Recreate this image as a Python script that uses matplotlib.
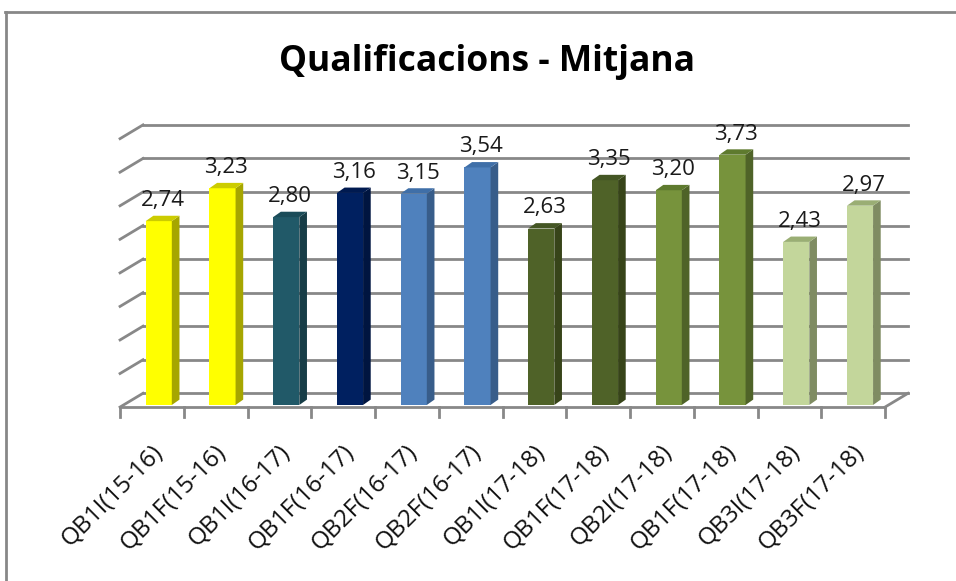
import matplotlib.pyplot as plt
from matplotlib.patches import Polygon
from matplotlib.lines import Line2D

plt.rcParams['font.family'] = ['Open Sans', 'DejaVu Sans']

# Data
categories = ['QB1I(15-16)', 'QB1F(15-16)', 'QB1I(16-17)', 'QB1F(16-17)', 'QB2F(16-17)', 'QB2F(16-17)',
              'QB1I(17-18)', 'QB1F(17-18)', 'QB2I(17-18)', 'QB1F(17-18)', 'QB3I(17-18)', 'QB3F(17-18)']
values = [2.74, 3.23, 2.80, 3.16, 3.15, 3.54, 2.63, 3.35, 3.20, 3.73, 2.43, 2.97]
value_labels = ['2,74', '3,23', '2,80', '3,16', '3,15', '3,54', '2,63', '3,35', '3,20', '3,73', '2,43', '2,97']
front_colors = ['#FFFF00', '#FFFF00', '#215968', '#002060', '#4F81BD', '#4F81BD',
                '#4F6228', '#4F6228', '#77933C', '#77933C', '#C3D69B', '#C3D69B']
top_colors = ['#CCCC00', '#CCCC00', '#1B4C59', '#001A50', '#3F6FA8', '#3F6FA8',
              '#445624', '#445624', '#5E7A2E', '#5E7A2E', '#9AAE74', '#9AAE74']
side_colors = ['#A6A600', '#A6A600', '#173D47', '#001540', '#385D8A', '#385D8A',
               '#374419', '#374419', '#4F6328', '#4F6328', '#7F8C62', '#7F8C62']

fig = plt.figure(figsize=(9.56, 5.81), dpi=100)
ax = fig.add_axes([0, 0, 1, 1])
# data units: 1 category = 63.75 px, 1 value unit = 67.1 px
ax.set_xlim(-143 / 63.75, (956 - 143) / 63.75)
ax.set_ylim(-(581 - 393.3) / 67.1, 393.3 / 67.1)
ax.axis('off')

grid_c = '#888888'
n = len(categories)
fx, fy = -0.36, -0.205  # offset from back wall to front edge

# back wall gridlines + left side diagonals
for k in range(9):
    y = k * 0.5
    ax.plot([0, n], [y, y], color=grid_c, lw=2, zorder=1)
    ax.plot([0, fx], [y, y + fy], color=grid_c, lw=2, zorder=1)
# floor front edge and right diagonal
ax.plot([fx, n + fx], [fy, fy], color=grid_c, lw=2, zorder=1)
ax.plot([n + fx, n], [fy, 0], color=grid_c, lw=2, zorder=1)
for k in range(n + 1):
    ax.plot([fx + k, fx + k], [fy, fy - 0.15], color=grid_c, lw=2, zorder=1)

# bars
w = 0.41
dx, dy = 0.12, 0.08
y0 = -0.174
for i, v in enumerate(values):
    x0 = i + 0.042
    y1 = y0 + v
    ax.add_patch(Polygon([(x0, y0), (x0 + w, y0), (x0 + w, y1), (x0, y1)],
                         closed=True, fc=front_colors[i], ec='none', zorder=3))
    ax.add_patch(Polygon([(x0 + w, y0), (x0 + w + dx, y0 + dy), (x0 + w + dx, y1 + dy), (x0 + w, y1)],
                         closed=True, fc=side_colors[i], ec='none', zorder=3))
    ax.add_patch(Polygon([(x0, y1), (x0 + w, y1), (x0 + w + dx, y1 + dy), (x0 + dx, y1 + dy)],
                         closed=True, fc=top_colors[i], ec='none', zorder=3))
    ax.text(x0 + w / 2 + dx / 2, y1 + dy + 0.07, value_labels[i], ha='center', va='bottom',
            fontsize=16, color='#1a1a1a', zorder=4)
    ax.text(fx + i + 0.5 - 0.02, fy - 0.5, categories[i], rotation=45, rotation_mode='anchor',
            ha='right', va='top', fontsize=17.5, color='#111111')

fig.text(0.509, 1 - 62 / 581, 'Qualificacions - Mitjana', ha='center', va='center',
         fontsize=25.5, fontweight='bold', color='#000000')

# chart border (top and left)
fig.add_artist(Line2D([5 / 956, 1], [1 - 12 / 581, 1 - 12 / 581], color='#878787', lw=2))
fig.add_artist(Line2D([6 / 956, 6 / 956], [0, 1 - 12 / 581], color='#878787', lw=2))

plt.savefig('out.png', dpi=100)
